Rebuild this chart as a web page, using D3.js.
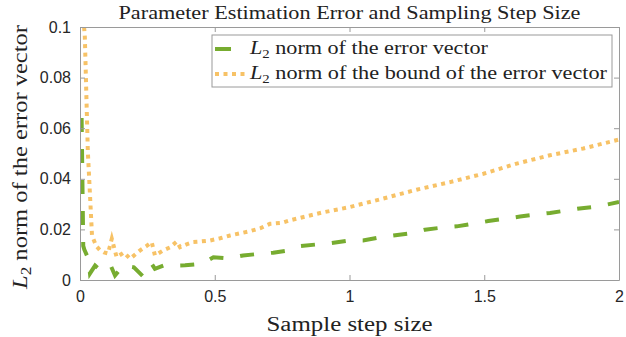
<!DOCTYPE html>
<html>
<head>
<meta charset="utf-8">
<script src="https://cdn.jsdelivr.net/npm/d3@7"></script>
<style>
  html, body { margin: 0; padding: 0; background: #fff; }
  svg { display: block; }
  .serif { font-family: "Liberation Serif", "Times New Roman", serif; }
  .sans { font-family: "Liberation Sans", Arial, Helvetica, sans-serif; }
</style>
</head>
<body>
<div id="chart"></div>
<script>
// Data
var errX = [0.006, 0.012, 0.016, 0.031, 0.037, 0.056, 0.068, 0.111, 0.13, 0.161,
            0.2, 0.234, 0.266, 0.278, 0.31, 0.35, 0.39, 0.452, 0.495, 0.549,
            0.605, 0.662, 0.717, 0.773, 0.816, 0.883, 0.934, 1.0, 1.05, 1.113,
            1.163, 1.23, 1.28, 1.342, 1.398, 1.46, 1.515, 1.577, 1.633, 1.695,
            1.744, 1.806, 1.862, 1.923, 2.0];
var errY = [0.064, 0.0135, 0.012, 0.0084, 0.0026, 0.0057, 0.0046, 0.0064, 0.0018, 0.0057,
            0.005, 0.0014, 0.0064, 0.0044, 0.0057, 0.0057, 0.0058, 0.0064, 0.009, 0.0085,
            0.0097, 0.0103, 0.0108, 0.0117, 0.0134, 0.0141, 0.0146, 0.0156, 0.0156, 0.0169,
            0.0176, 0.0185, 0.0199, 0.0207, 0.0212, 0.0223, 0.0233, 0.0242, 0.0251, 0.0259,
            0.0265, 0.0275, 0.0284, 0.0291, 0.0308];

var boundX = [0.008, 0.018, 0.029, 0.0445, 0.06, 0.074, 0.089, 0.104, 0.118, 0.136,
              0.163, 0.186, 0.223, 0.245, 0.266, 0.278, 0.309, 0.334, 0.359, 0.371,
              0.393, 0.42, 0.445, 0.482, 0.52, 0.557, 0.6, 0.631, 0.67, 0.705,
              0.75, 0.779, 0.853, 0.9, 1.0, 1.125, 1.249, 1.373, 1.497, 1.62,
              1.744, 1.868, 2.0];
var boundY = [0.11, 0.096, 0.051, 0.0176, 0.0135, 0.0118, 0.0109, 0.0105, 0.0163, 0.009,
              0.0109, 0.0084, 0.0117, 0.0133, 0.015, 0.0097, 0.0117, 0.0129, 0.0152, 0.013,
              0.014, 0.015, 0.0152, 0.0156, 0.0165, 0.0176, 0.0186, 0.0193, 0.0205, 0.0222,
              0.0226, 0.0236, 0.0255, 0.0267, 0.0288, 0.0322, 0.0357, 0.0387, 0.042, 0.046,
              0.0493, 0.052, 0.0555];

var xTicks = [0, 0.5, 1, 1.5, 2];
var xTickLabels = ['0', '0.5', '1', '1.5', '2'];
var yTicks = [0, 0.02, 0.04, 0.06, 0.08, 0.1];
var yTickLabels = ['0', '0.02', '0.04', '0.06', '0.08', '0.1'];

var titleText = 'Parameter Estimation Error and Sampling Step Size';
var xLabelText = 'Sample step size';
var yLabelText = ' norm of the error vector';
var legendTexts = [' norm of the error vector', ' norm of the bound of the error vector'];

var W = 626, H = 337;
var margin = { top: 27, right: 7, bottom: 57, left: 80 };
var width = W - margin.left - margin.right;
var height = H - margin.top - margin.bottom;

var green = '#77AC30', orange = '#F7C266', axisColor = '#9a9a9a', textColor = '#262626';

var svg = d3.select('#chart').append('svg').attr('width', W).attr('height', H);
var g = svg.append('g').attr('transform', 'translate(' + margin.left + ',' + margin.top + ')');

var x = d3.scaleLinear().domain([0, 2]).range([0, width]);
var y = d3.scaleLinear().domain([0, 0.1]).range([height, 0]);

svg.append('defs').append('clipPath').attr('id', 'plotClip')
  .append('rect').attr('width', width).attr('height', height);

// Lines
var line = d3.line().x(function(d) { return x(d[0]); }).y(function(d) { return y(d[1]); });
var errData = errX.map(function(v, i) { return [v, errY[i]]; });
var boundData = boundX.map(function(v, i) { return [v, boundY[i]]; });

var plot = g.append('g').attr('clip-path', 'url(#plotClip)');
plot.append('path').datum(boundData).attr('d', line)
  .attr('fill', 'none').attr('stroke', orange).attr('stroke-width', 4)
  .attr('stroke-dasharray', '4,4.5');
plot.append('path').datum(errData).attr('d', line)
  .attr('fill', 'none').attr('stroke', green).attr('stroke-width', 4)
  .attr('stroke-dasharray', '14,17');

// Axes (box with inward ticks on all sides)
function styleAxis(sel) {
  sel.attr('font-family', null).attr('class', 'sans');
  sel.selectAll('.domain').attr('stroke', axisColor);
  sel.selectAll('.tick line').attr('stroke', axisColor);
  sel.selectAll('text').attr('fill', textColor).style('font-size', '16px');
}
g.append('g').attr('transform', 'translate(0,' + height + ')')
  .call(d3.axisBottom(x).tickValues(xTicks).tickSize(-5).tickSizeOuter(0).tickPadding(11)
    .tickFormat(function(d, i) { return xTickLabels[i]; }))
  .call(styleAxis);
g.append('g')
  .call(d3.axisLeft(y).tickValues(yTicks).tickSize(-5).tickSizeOuter(0).tickPadding(9)
    .tickFormat(function(d, i) { return yTickLabels[i]; }))
  .call(styleAxis);
g.append('g')
  .call(d3.axisTop(x).tickValues(xTicks).tickSize(-5).tickSizeOuter(0).tickFormat(''))
  .call(styleAxis);
g.append('g').attr('transform', 'translate(' + width + ',0)')
  .call(d3.axisRight(y).tickValues(yTicks).tickSize(-5).tickSizeOuter(0).tickFormat(''))
  .call(styleAxis);

// Title
svg.append('text').attr('class', 'serif').attr('x', margin.left + width / 2).attr('y', 19)
  .attr('text-anchor', 'middle').style('font-size', '18px')
  .attr('fill', '#222').attr('textLength', 462).attr('lengthAdjust', 'spacingAndGlyphs')
  .text(titleText);

// X label
svg.append('text').attr('class', 'serif').attr('x', margin.left + width / 2).attr('y', 331)
  .attr('text-anchor', 'middle').style('font-size', '20px')
  .attr('fill', '#222').attr('textLength', 166).attr('lengthAdjust', 'spacingAndGlyphs')
  .text(xLabelText);

// Y label with L_2
var yl = svg.append('text').attr('class', 'serif')
  .attr('transform', 'translate(27,' + (margin.top + 130) + ') rotate(-90)')
  .attr('text-anchor', 'middle').style('font-size', '20px').attr('fill', '#222')
  .attr('textLength', 264).attr('lengthAdjust', 'spacingAndGlyphs');
yl.append('tspan').attr('font-style', 'italic').text('L');
yl.append('tspan').style('font-size', '14px').attr('dy', 4).text('2');
yl.append('tspan').attr('dy', -4).text(yLabelText);

// Legend
var lg = svg.append('g').attr('transform', 'translate(212,35)');
lg.append('rect').attr('width', 400).attr('height', 52)
  .attr('fill', '#fff').attr('stroke', axisColor).attr('stroke-width', 1);
var rows = [
  { color: green, dash: '16,14', label: legendTexts[0], yy: 14, len: 238 },
  { color: orange, dash: '4,4.5', label: legendTexts[1], yy: 39, len: 357 }
];
rows.forEach(function(r) {
  lg.append('line').attr('x1', 3).attr('x2', 33).attr('y1', r.yy).attr('y2', r.yy)
    .attr('stroke', r.color).attr('stroke-width', 4).attr('stroke-dasharray', r.dash);
  var t = lg.append('text').attr('class', 'serif').attr('x', 38).attr('y', r.yy + 5)
    .style('font-size', '18px').attr('fill', '#222')
    .attr('textLength', r.len).attr('lengthAdjust', 'spacingAndGlyphs');
  t.append('tspan').attr('font-style', 'italic').text('L');
  t.append('tspan').style('font-size', '12px').attr('dy', 4).text('2');
  t.append('tspan').attr('dy', -4).text(r.label);
});
</script>
</body>
</html>
